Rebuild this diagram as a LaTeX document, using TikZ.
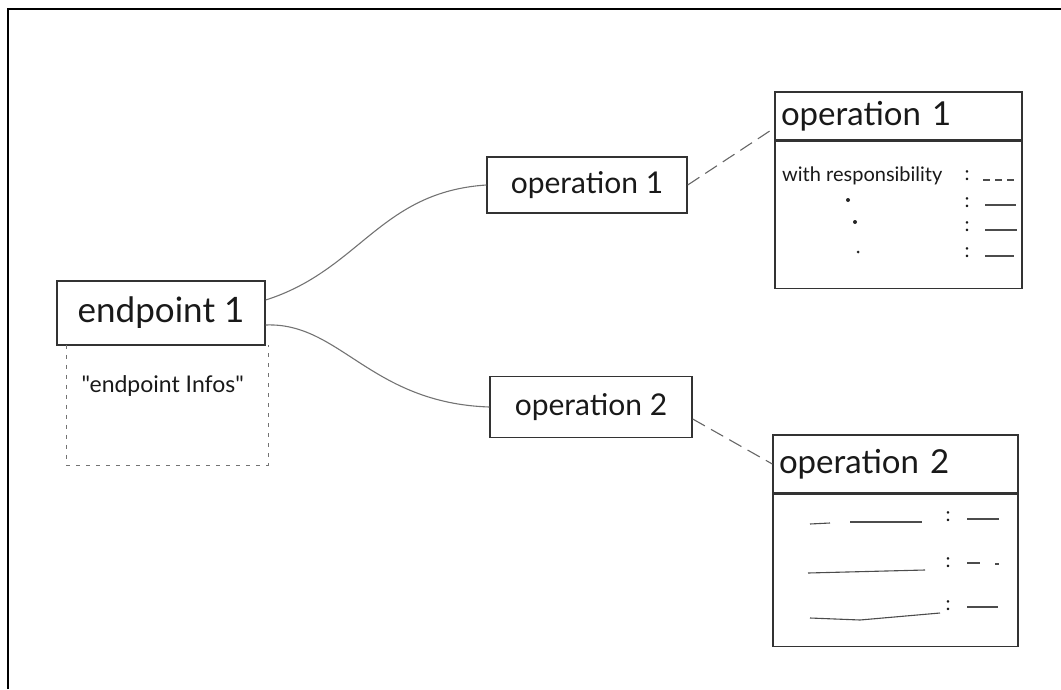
\documentclass[tikz,border=0pt]{standalone}
\usepackage{fontspec}
\setmainfont{Lato}[Ligatures=TeXReset]
\usetikzlibrary{calc}
\begin{document}
\begin{tikzpicture}[x=1pt,y=-1pt,
  pencil/.style={draw=black!80, line width=1.4pt},
  box/.style={pencil, rectangle, inner sep=0pt},
  title/.style={font=\fontsize{30}{32}\selectfont, text=black!90},
  bigtitle/.style={font=\fontsize{35}{37}\selectfont, text=black!90},
  cardtitle/.style={font=\fontsize{33}{35}\selectfont, text=black!90},
  small/.style={font=\fontsize{20}{22}\selectfont, text=black!90},
  link/.style={draw=black!55, line width=1.1pt},
  dashlink/.style={draw=black!60, line width=1.1pt, dash pattern=on 14pt off 7pt},
  faint/.style={draw=black!55, line width=1pt, dash pattern=on 4pt off 6pt},
  rowline/.style={draw=black!70, line width=1.1pt},
  dot/.style={circle, fill=black!85, inner sep=0pt, minimum size=4pt}
]
\useasboundingbox (0,0) rectangle (1061,689);

% outer frame
\draw[line width=2pt] (8,689) -- (8,9) -- (1061,9);

% endpoint with its info panel
\node[box, bigtitle, minimum width=208pt, minimum height=64pt] (ep) at (161,313) {endpoint 1};
\node[minimum width=201pt, minimum height=120pt, inner sep=0pt] (info) at (167.5,405) {};
\draw[faint] (info.north west) -- (info.south west) -- (info.south east) -- (info.north east);
\node[font=\fontsize{23}{25}\selectfont, text=black!90, anchor=west] (infotxt) at (78,386) {\char"22 endpoint Infos\char"22};

% operations
\node[box, title, minimum width=200pt, minimum height=56pt] (op1) at (587,185) {operation 1};
\node[box, title, minimum width=202pt, minimum height=61pt] (op2) at (591,407) {operation 2};

% card for operation 1
\node[box, cardtitle, minimum width=247pt, minimum height=48pt, text width=235pt, align=left] (c1h) at (898.5,116) {operation 1};
\node[box, minimum width=247pt, minimum height=147pt, anchor=north] (c1b) at (c1h.south) {};
\node[small, anchor=west, inner sep=0pt] (resp) at (782,176) {with responsibility};
\node[small, anchor=center] (c1k1) at (967,176) {:};
\draw[rowline, dash pattern=on 7pt off 5pt] (983,180) -- (1017,180);
\node[dot] (d1) at (848,200) {};
\node[dot] (d2) at (855,222) {};
\node[dot, minimum size=3pt] (d3) at (858,252) {};
\node[small] (c1k2) at (967,203) {:};
\node[small] (c1k3) at (967,227) {:};
\node[small] (c1k4) at (967,253) {:};
\draw[rowline] (985,205) -- (1016,205);
\draw[rowline] (985,230) -- (1017,230);
\draw[rowline] (985,256) -- (1014,256);

% card for operation 2
\node[box, cardtitle, minimum width=245pt, minimum height=58pt, text width=233pt, align=left] (c2h) at (895.5,464) {operation 2};
\node[box, minimum width=245pt, minimum height=152pt, anchor=north] (c2b) at (c2h.south) {};
\draw[rowline] (810,524) -- (830,523);
\draw[rowline] (850,522) -- (922,522);
\draw[rowline] (808,573) -- (925,570);
\draw[rowline] (810,618) -- (860,620) -- (940,613);
\node[small] (c2k1) at (948,517) {:};
\node[small] (c2k2) at (948,563) {:};
\node[small] (c2k3) at (948,606) {:};
\draw[rowline] (967,519) -- (999,519);
\draw[rowline] (967,563) -- (980,563) (995,564) -- (999,564);
\draw[rowline] (967,607) -- (998,607);

% connectors
\draw[link] ([yshift=13pt]ep.east) .. controls (360,270) and (380,192) .. (op1.west);
\draw[link] ([yshift=-12pt]ep.east) .. controls (340,322) and (370,403) .. (op2.west);
\draw[dashlink] (op1.east) -- ([yshift=-12pt]c1h.west);
\draw[dashlink] ([yshift=-12pt]op2.east) -- (c2h.west);
\end{tikzpicture}
\end{document}
